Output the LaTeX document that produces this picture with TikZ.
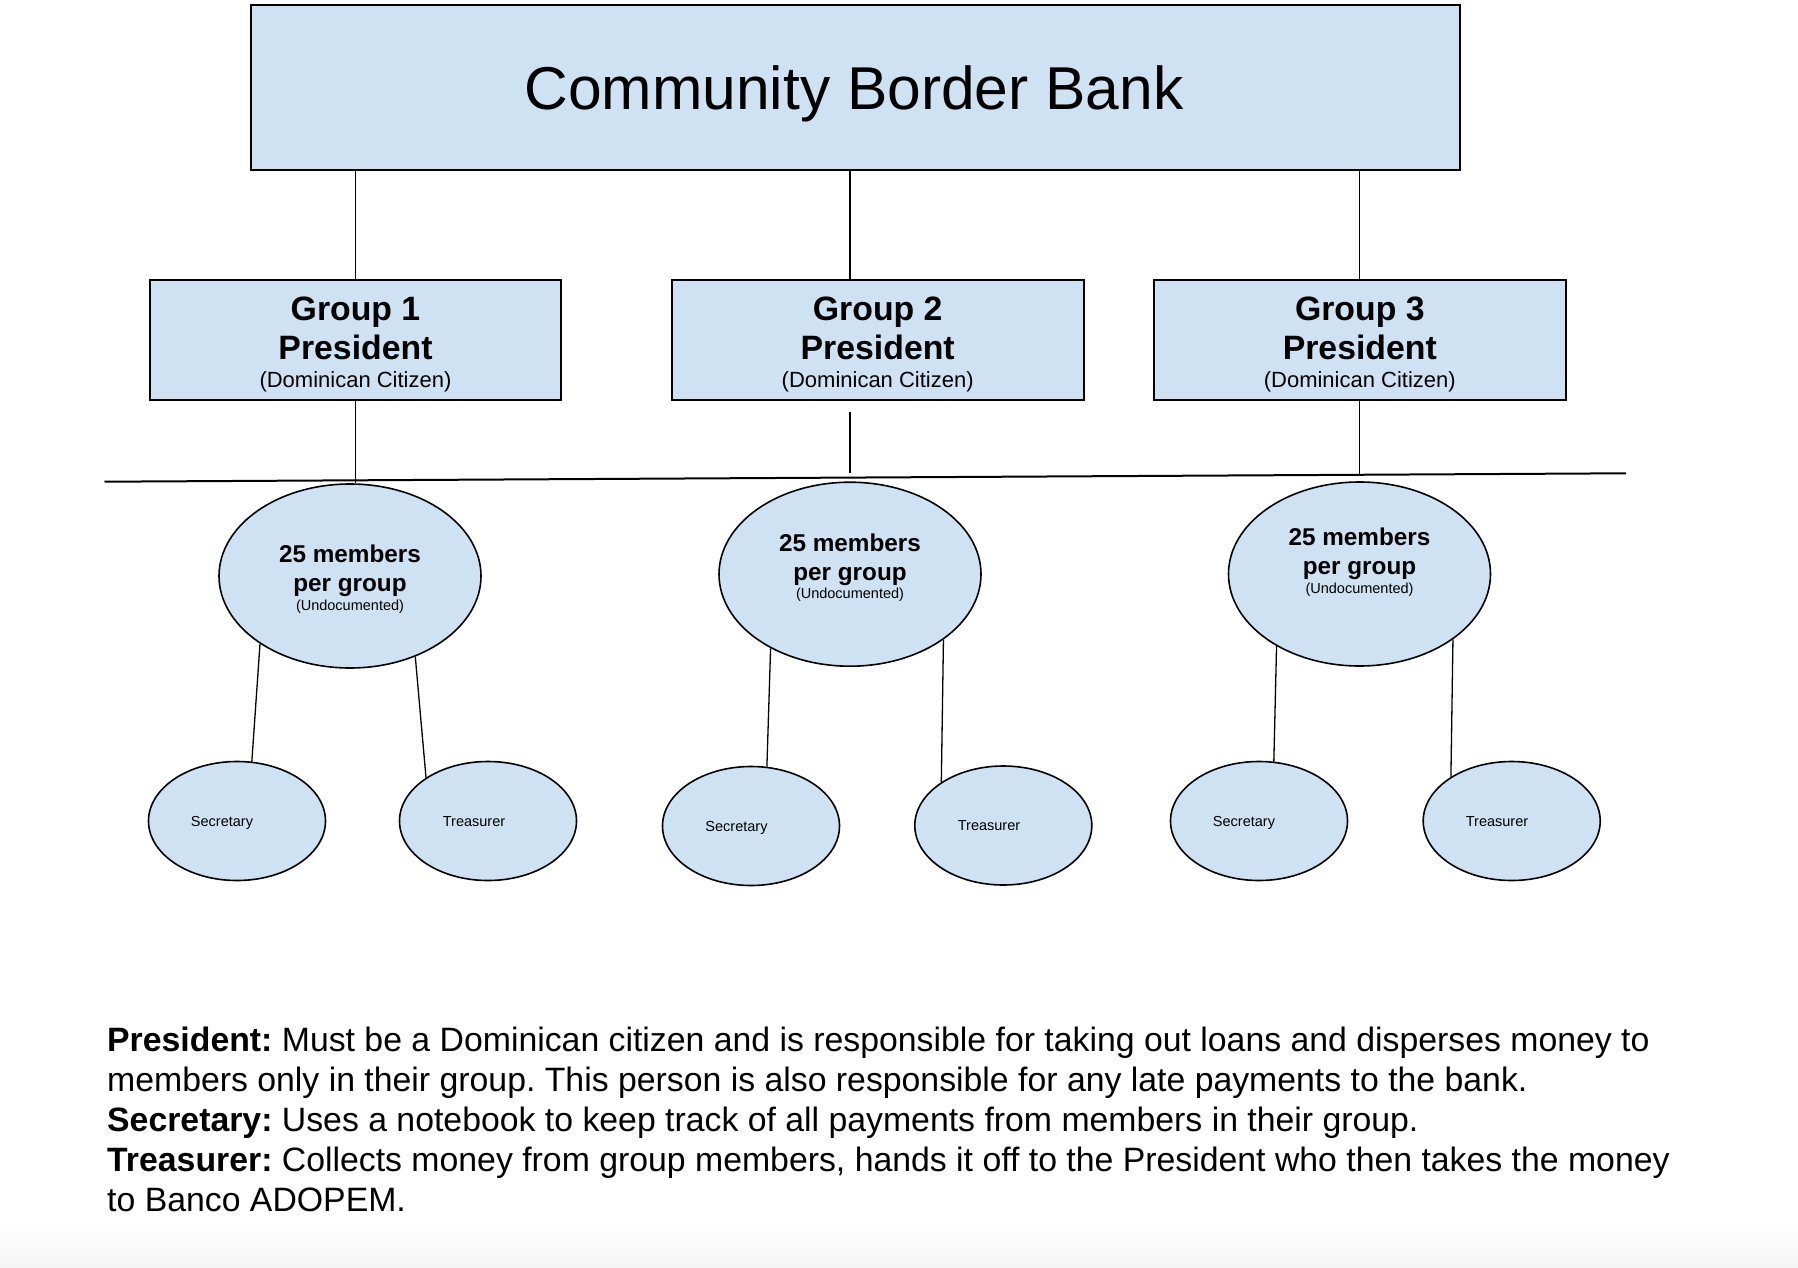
\documentclass[tikz,border=0pt]{standalone}
\usepackage{fontspec}
\setmainfont{Liberation Sans}
\usetikzlibrary{shapes.geometric}
\definecolor{boxblue}{HTML}{CFE2F3}
\frenchspacing
\tikzset{
  rbox/.style={draw=black, line width=1.6pt, fill=boxblue, rectangle, inner sep=0pt},
  bigell/.style={draw=black, line width=1.6pt, fill=boxblue, ellipse, inner sep=0pt, minimum width=262pt, minimum height=184pt},
  smell/.style={draw=black, line width=1.6pt, fill=boxblue, ellipse, inner sep=0pt, minimum width=177pt, minimum height=119pt},
  conn/.style={draw=black, line width=1.3pt},
  hline/.style={draw=black, line width=2pt},
  ttl/.style={anchor=base, inner sep=0pt, font=\fontsize{60.5}{70}\selectfont},
  gtitle/.style={anchor=base, inner sep=0pt, font=\bfseries\fontsize{33.8}{38}\selectfont},
  gsub/.style={anchor=base, inner sep=0pt, font=\fontsize{22}{26}\selectfont},
  etitle/.style={anchor=base, inner sep=0pt, font=\bfseries\fontsize{24.3}{28}\selectfont},
  esub/.style={anchor=base, inner sep=0pt, font=\fontsize{14.5}{17}\selectfont},
  stxt/.style={anchor=base, inner sep=0pt, font=\fontsize{14.5}{17}\selectfont},
  btxt/.style={anchor=base west, inner sep=0pt, font=\fontsize{33.8}{40}\selectfont\frenchspacing},
}
\begin{document}
\begin{tikzpicture}[x=1pt,y=-1pt]
\useasboundingbox (0,0) rectangle (1798,1268);
\fill[white] (0,0) rectangle (1798,1268);
\shade[top color=white, bottom color=black!4] (0,1222) rectangle (1798,1268);

% top box
\node[rbox, minimum width=1209pt, minimum height=165pt] (top) at (855.5,87.5) {};
\node[ttl] (toptxt) at (854,110) {Community Border Bank};

% group boxes
\node[rbox, minimum width=411pt, minimum height=120pt] (g1) at (355.5,340) {};
\node[rbox, minimum width=412pt, minimum height=120pt] (g2) at (877.7,340) {};
\node[rbox, minimum width=412pt, minimum height=120pt] (g3) at (1359.8,340) {};

\node[gtitle] (g1a) at (355.5,320) {Group 1};
\node[gtitle] (g1b) at (355.5,359) {President};
\node[gsub]   (g1c) at (355.5,387) {(Dominican Citizen)};
\node[gtitle] (g2a) at (877.7,320) {Group 2};
\node[gtitle] (g2b) at (877.7,359) {President};
\node[gsub]   (g2c) at (877.7,387) {(Dominican Citizen)};
\node[gtitle] (g3a) at (1359.8,320) {Group 3};
\node[gtitle] (g3b) at (1359.8,359) {President};
\node[gsub]   (g3c) at (1359.8,387) {(Dominican Citizen)};

% big ellipses
\node[bigell] (e1) at (350,576) {};
\node[bigell] (e2) at (850,574.2) {};
\node[bigell] (e3) at (1359.5,574) {};

\node[etitle] (e1a) at (350,562) {25 members};
\node[etitle] (e1b) at (350,591.5) {per group};
\node[esub]   (e1c) at (350,610) {(Undocumented)};
\node[etitle] (e2a) at (850,551) {25 members};
\node[etitle] (e2b) at (850,580.5) {per group};
\node[esub]   (e2c) at (850,598) {(Undocumented)};
\node[etitle] (e3a) at (1359.5,545) {25 members};
\node[etitle] (e3b) at (1359.5,574.5) {per group};
\node[esub]   (e3c) at (1359.5,593) {(Undocumented)};

% small ellipses
\node[smell] (s1) at (237,821) {};
\node[smell] (t1) at (488,821) {};
\node[smell] (s2) at (751,826) {};
\node[smell] (t2) at (1003.3,825.5) {};
\node[smell] (s3) at (1259,821) {};
\node[smell] (t3) at (1511.7,821) {};

\node[stxt] (s1t) at (222,826) {Secretary};
\node[stxt] (t1t) at (474,826) {Treasurer};
\node[stxt] (s2t) at (736.5,831) {Secretary};
\node[stxt] (t2t) at (989,830.5) {Treasurer};
\node[stxt] (s3t) at (1244,826) {Secretary};
\node[stxt] (t3t) at (1497,826) {Treasurer};

% helper coordinates
\coordinate (hl1) at (104.5,481.7);
\coordinate (hl2) at (1626,473.3);
\coordinate (g2x) at (850,0);
\coordinate (g2lo1) at (850,411.7);
\coordinate (g2lo2) at (850,473);
\coordinate (g3lo) at (1359.8,474);

% connectors
\draw[conn] (top.south -| g1.north) -- (g1.north);
\draw[conn] (top.south -| g2x) -- (g2.north -| g2x);
\draw[conn] (top.south -| g3.north) -- (g3.north);
\draw[conn] (g1.south) -- (g1.south |- e1.north);
\draw[conn] (g2lo1) -- (g2lo2);
\draw[conn] (g3.south) -- (g3lo);
\draw[hline] (hl1) -- (hl2);

\draw[conn] (e1.-143.9) -- (s1.76.7);
\draw[conn] (e1.-51.3) -- (t1.145.3);
\draw[conn] (e2.-137.6) -- (s2.75.8);
\draw[conn] (e2.-35.4) -- (t2.145.5);
\draw[conn] (e3.-139.8) -- (s3.76.1);
\draw[conn] (e3.-35.3) -- (t3.144.6);

% legend text
\node[btxt] (l1) at (107,1051) {\textbf{President:} Must be a Dominican citizen and is responsible for taking out loans and disperses money to};
\node[btxt] (l2) at (107,1091) {members only in their group. This person is also responsible for any late payments to the bank.};
\node[btxt] (l3) at (107,1131) {\textbf{Secretary:} Uses a notebook to keep track of all payments from members in their group.};
\node[btxt] (l4) at (107,1171) {\textbf{Treasurer:} Collects money from group members, hands it off to the President who then takes the money};
\node[btxt] (l5) at (107,1211) {to Banco ADOPEM.};
\end{tikzpicture}
\end{document}
